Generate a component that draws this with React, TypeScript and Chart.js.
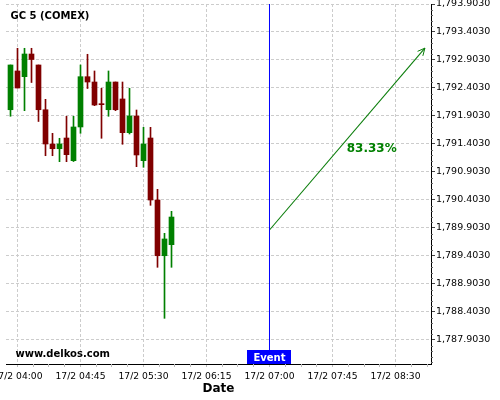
import React, { useEffect, useRef } from "react";
import { Chart, registerables } from "chart.js";

Chart.register(...registerables);

// ---- data ----
const times = [
  "03:55", "04:00", "04:05", "04:10", "04:15", "04:20", "04:25", "04:30",
  "04:35", "04:40", "04:45", "04:50", "04:55", "05:00", "05:05", "05:10",
  "05:15", "05:20", "05:25", "05:30", "05:35", "05:40", "05:45", "05:50",
];
const opens = [
  1792.015, 1792.707, 1792.605, 1793.010, 1792.814, 1792.015, 1791.403, 1791.319,
  1791.510, 1791.105, 1791.707, 1792.605, 1792.510, 1792.117, 1792.015, 1792.510,
  1792.207, 1791.605, 1791.903, 1791.105, 1791.510, 1790.403, 1789.408, 1789.605,
];
const highs = [
  1792.814, 1793.112, 1793.112, 1793.112, 1792.814, 1792.201, 1791.594, 1791.505,
  1791.898, 1791.898, 1792.814, 1793.005, 1792.707, 1792.398, 1792.707, 1792.510,
  1792.510, 1792.398, 1792.010, 1791.701, 1791.701, 1790.594, 1789.808, 1790.201,
];
const lows = [
  1791.898, 1792.403, 1791.998, 1792.501, 1791.805, 1791.194, 1791.194, 1791.087,
  1791.087, 1791.090, 1791.594, 1792.394, 1792.087, 1791.505, 1791.898, 1791.998,
  1791.398, 1791.582, 1790.998, 1790.987, 1790.308, 1789.201, 1788.290, 1789.201,
];
const closes = [
  1792.814, 1792.403, 1793.010, 1792.912, 1792.015, 1791.403, 1791.319, 1791.403,
  1791.212, 1791.707, 1792.605, 1792.510, 1792.099, 1792.105, 1792.510, 1792.015,
  1791.605, 1791.903, 1791.207, 1791.403, 1790.403, 1789.408, 1789.707, 1790.099,
];

const xTickTimes = ["04:00", "04:45", "05:30", "06:15", "07:00", "07:45", "08:30"];
const yTickValues = [
  1787.903, 1788.403, 1788.903, 1789.403, 1789.903, 1790.403, 1790.903,
  1791.403, 1791.903, 1792.403, 1792.903, 1793.403, 1793.903,
];
const dateLabel = "17/2";
const eventTime = "07:00";
const arrowTimes = ["07:00", "08:51"];
const arrowPrices = [1789.867, 1793.115];
const probabilityText = "83.33%";
const titleText = "GC 5 (COMEX)";
const watermarkText = "www.delkos.com";
const eventText = "Event";
const xAxisTitle = "Date";
const xRangeTimes = ["03:51.786", "08:55.357"];
const yRange = [1787.4744, 1793.903];

// ---- helpers ----
const toMin = (t: string) => {
  const [h, m] = t.split(":");
  return parseInt(h, 10) * 60 + parseFloat(m);
};
const fmtTime = (v: number) => {
  const h = Math.floor(v / 60);
  const m = Math.round(v - h * 60);
  return `${dateLabel} ${String(h).padStart(2, "0")}:${String(m).padStart(2, "0")}`;
};
const fmtPrice = (v: number) =>
  v.toLocaleString("en-US", { minimumFractionDigits: 4, maximumFractionDigits: 4 });

const RED = "#800000";
const GREEN = "#008000";
const ARROW = "#0a7d0a";
const FONT = "'DejaVu Sans', Verdana, sans-serif";

const overlayPlugin = {
  id: "overlay",
  afterDraw(chart: any) {
    const { ctx, chartArea, scales } = chart;
    const xs = scales.x;
    const ys = scales.y;
    ctx.save();

    // minor y ticks
    ctx.strokeStyle = "#666";
    ctx.lineWidth = 1;
    for (let i = -10; i <= 70; i++) {
      if (i % 5 === 0) continue;
      const v = yTickValues[0] + i * 0.1;
      if (v < ys.min || v > ys.max) continue;
      const py = Math.round(ys.getPixelForValue(v)) + 0.5;
      ctx.beginPath();
      ctx.moveTo(chartArea.right, py);
      ctx.lineTo(chartArea.right + 2, py);
      ctx.stroke();
    }
    // minor x ticks
    ctx.strokeStyle = "#bbb";
    const x0 = toMin(xTickTimes[0]);
    for (let i = -4; i <= 40; i++) {
      if (i % 4 === 0) continue;
      const v = x0 + i * 11.25;
      if (v < xs.min || v > xs.max) continue;
      const px = Math.floor(xs.getPixelForValue(v)) + 0.5;
      ctx.beginPath();
      ctx.moveTo(px, chartArea.bottom);
      ctx.lineTo(px, chartArea.bottom + 3);
      ctx.stroke();
    }

    // arrowhead
    const sx = xs.getPixelForValue(toMin(arrowTimes[0]));
    const sy = ys.getPixelForValue(arrowPrices[0]);
    const ex = xs.getPixelForValue(toMin(arrowTimes[1]));
    const ey = ys.getPixelForValue(arrowPrices[1]);
    const ang = Math.atan2(ey - sy, ex - sx);
    const len = 8;
    ctx.strokeStyle = ARROW;
    ctx.lineWidth = 1;
    ctx.beginPath();
    ctx.moveTo(ex - len * Math.cos(ang - 0.45), ey - len * Math.sin(ang - 0.45));
    ctx.lineTo(ex, ey);
    ctx.lineTo(ex - len * Math.cos(ang + 0.45), ey - len * Math.sin(ang + 0.45));
    ctx.stroke();

    // probability label
    ctx.fillStyle = GREEN;
    ctx.font = `bold 12px ${FONT}`;
    ctx.textAlign = "left";
    ctx.textBaseline = "alphabetic";
    ctx.fillText(probabilityText, (sx + ex) / 2 - 0.5, (sy + ey) / 2 + 13);

    // title
    ctx.fillStyle = "#000";
    ctx.font = `bold 10px ${FONT}`;
    ctx.fillText(titleText, 10.5, 19);

    // watermark
    ctx.fillText(watermarkText, 15.5, 357);

    // event box
    const evx = xs.getPixelForValue(toMin(eventTime));
    ctx.font = `bold 10px ${FONT}`;
    const w = ctx.measureText(eventText).width + 12;
    ctx.fillStyle = "#0000ff";
    ctx.fillRect(Math.round(evx - w / 2), chartArea.bottom - 14, Math.round(w), 14);
    ctx.fillStyle = "#fff";
    ctx.textAlign = "center";
    ctx.fillText(eventText, evx, chartArea.bottom - 3.5);

    ctx.restore();
  },
};

export default function App() {
  const ref = useRef<HTMLCanvasElement | null>(null);

  useEffect(() => {
    if (!ref.current) return;
    const xv = times.map(toMin);
    const up = closes.map((c, i) => c >= opens[i]);
    const colors = up.map((u) => (u ? GREEN : RED));
    const evx = toMin(eventTime);

    const chart = new Chart(ref.current, {
      type: "bar",
      data: {
        datasets: [
          {
            type: "bar",
            data: xv.map((x, i) => ({ x, y: [lows[i], highs[i]] })) as any,
            backgroundColor: colors,
            borderWidth: 0,
            barThickness: 1,
            grouped: false,
          } as any,
          {
            type: "bar",
            data: xv.map((x, i) => ({ x, y: [opens[i], closes[i]] })) as any,
            backgroundColor: colors,
            borderWidth: 0,
            barThickness: 5,
            minBarLength: 1,
            grouped: false,
          } as any,
          {
            type: "line",
            data: [
              { x: evx, y: yRange[0] },
              { x: evx, y: yRange[1] },
            ],
            borderColor: "#0000ff",
            borderWidth: 1,
            pointRadius: 0,
          } as any,
          {
            type: "line",
            data: arrowTimes.map((t, i) => ({ x: toMin(t), y: arrowPrices[i] })),
            borderColor: ARROW,
            borderWidth: 1.1,
            pointRadius: 0,
          } as any,
        ],
      },
      options: {
        responsive: false,
        animation: false,
        layout: { padding: { left: 6, top: 4, right: 0, bottom: 0 } },
        plugins: { legend: { display: false }, tooltip: { enabled: false } },
        scales: {
          x: {
            type: "linear",
            offset: false,
            min: toMin(xRangeTimes[0]),
            max: toMin(xRangeTimes[1]),
            afterBuildTicks: (s: any) => {
              s.ticks = xTickTimes.map((t) => ({ value: toMin(t) }));
            },
            afterFit: (s: any) => {
              s.height = 36;
              s.paddingLeft = 0;
              s.paddingRight = 0;
            },
            ticks: {
              autoSkip: false,
              maxRotation: 0,
              padding: 4,
              color: "#000",
              font: { family: FONT, size: 9.2 },
              callback: (v: any) => fmtTime(Number(v)),
            },
            grid: {
              offset: false,
              color: "#cccccc",
              lineWidth: 1,
              tickColor: "#bbbbbb",
              tickLength: 3,
              tickBorderDash: [],
              borderDash: [3, 2],
            } as any,
            border: { color: "#000", width: 1, dash: [3, 2] } as any,
            title: {
              display: true,
              text: xAxisTitle,
              color: "#000",
              font: { family: FONT, size: 12, weight: "bold" },
              padding: { top: 0, bottom: 4 },
            },
          },
          y: {
            type: "linear",
            position: "right",
            min: yRange[0],
            max: yRange[1],
            afterBuildTicks: (s: any) => {
              s.ticks = yTickValues.map((v) => ({ value: v }));
            },
            afterFit: (s: any) => {
              s.width = 69;
              s.paddingTop = 0;
              s.paddingBottom = 0;
            },
            ticks: {
              autoSkip: false,
              padding: 1,
              color: "#000",
              font: { family: FONT, size: 9.5 },
              callback: (v: any) => fmtPrice(Number(v)),
            },
            grid: {
              color: "#cccccc",
              lineWidth: 1,
              tickColor: "#444",
              tickLength: 4,
              tickBorderDash: [],
              borderDash: [3, 2],
            } as any,
            border: { color: "#000", width: 1, dash: [3, 2] } as any,
          },
        },
      } as any,
      plugins: [overlayPlugin],
    });
    return () => chart.destroy();
  }, []);

  return (
    <div style={{ position: "fixed", left: 0, top: 0, width: 500, height: 400, background: "#fff" }}>
      <canvas ref={ref} width={500} height={400} style={{ width: 500, height: 400, display: "block" }} />
    </div>
  );
}
